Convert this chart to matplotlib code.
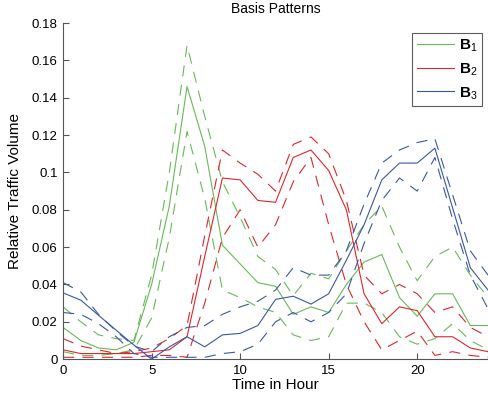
import matplotlib
matplotlib.use("Agg")
import matplotlib.pyplot as plt

plt.rcParams['font.family'] = ['Liberation Sans', 'DejaVu Sans']
plt.rcParams['mathtext.fontset'] = 'custom'
plt.rcParams['mathtext.rm'] = 'Liberation Sans'
plt.rcParams['mathtext.bf'] = 'Liberation Sans:bold'
plt.rcParams['lines.scale_dashes'] = False

hours = list(range(25))

# B1 (green)
b1 = [0.017, 0.010, 0.006, 0.005, 0.009, 0.040, 0.082, 0.146, 0.114, 0.061, 0.051, 0.041, 0.039,
      0.024, 0.028, 0.025, 0.040, 0.052, 0.056, 0.033, 0.023, 0.035, 0.035, 0.018, 0.018]
b1_hi = [0.028, 0.020, 0.013, 0.011, 0.010, 0.045, 0.100, 0.168, 0.130, 0.095, 0.076, 0.055, 0.048,
         0.034, 0.046, 0.043, 0.058, 0.072, 0.082, 0.060, 0.042, 0.055, 0.060, 0.045, 0.033]
b1_lo = [0.004, 0.002, 0.002, 0.003, 0.005, 0.022, 0.065, 0.122, 0.086, 0.037, 0.033, 0.028, 0.025,
         0.013, 0.010, 0.012, 0.030, 0.030, 0.025, 0.012, 0.008, 0.011, 0.019, 0.010, 0.005]

# B2 (red)
b2 = [0.005, 0.003, 0.003, 0.003, 0.003, 0.004, 0.005, 0.012, 0.055, 0.097, 0.096, 0.085, 0.084,
      0.108, 0.112, 0.101, 0.080, 0.035, 0.019, 0.028, 0.026, 0.012, 0.012, 0.006, 0.004]
b2_hi = [0.011, 0.007, 0.005, 0.003, 0.004, 0.006, 0.011, 0.018, 0.066, 0.112, 0.105, 0.099, 0.090,
         0.115, 0.119, 0.110, 0.085, 0.045, 0.035, 0.040, 0.035, 0.025, 0.028, 0.017, 0.012]
b2_lo = [0.001, 0.001, 0.001, 0.001, 0.001, 0.002, 0.002, 0.001, 0.030, 0.065, 0.080, 0.060, 0.072,
         0.095, 0.108, 0.072, 0.040, 0.020, 0.005, 0.010, 0.015, 0.002, 0.004, 0.002, 0.001]

# B3 (blue)
b3 = [0.0355, 0.0316, 0.0235, 0.0155, 0.0076, 0.000, 0.0066, 0.012, 0.0066, 0.013, 0.0138, 0.018, 0.032,
      0.0337, 0.0295, 0.035, 0.053, 0.072, 0.096, 0.105, 0.105, 0.113, 0.081, 0.049, 0.037]
b3_hi = [0.041, 0.036, 0.024, 0.015, 0.007, 0.004, 0.012, 0.017, 0.018, 0.024, 0.028, 0.031, 0.037,
         0.049, 0.045, 0.045, 0.058, 0.083, 0.105, 0.112, 0.116, 0.118, 0.088, 0.058, 0.045]
b3_lo = [0.025, 0.024, 0.019, 0.012, 0.003, 0.001, 0.001, 0.001, 0.001, 0.003, 0.004, 0.008, 0.020,
         0.025, 0.020, 0.025, 0.035, 0.062, 0.085, 0.097, 0.090, 0.108, 0.075, 0.045, 0.027]

green = '#66bb55'
red = '#e0262a'
blue = '#3a58a6'

fig = plt.figure(figsize=(4.89, 4.04), dpi=100)
ax = fig.add_axes([0.129, 0.111, 0.869, 0.832])

for mid, hi, lo, c, lab in [(b1, b1_hi, b1_lo, green, r'$\mathbf{B}_1$'),
                            (b2, b2_hi, b2_lo, red, r'$\mathbf{B}_2$'),
                            (b3, b3_hi, b3_lo, blue, r'$\mathbf{B}_3$')]:
    ax.plot(hours, mid, color=c, lw=0.8, label=lab)
    ax.plot(hours, hi, color=c, lw=0.8, dashes=(8, 6))
    ax.plot(hours, lo, color=c, lw=0.8, dashes=(8, 6))

ax.set_xlim(0, 24)
ax.set_ylim(0, 0.18)
ax.set_xticks([0, 5, 10, 15, 20])
ax.set_yticks([0, 0.02, 0.04, 0.06, 0.08, 0.1, 0.12, 0.14, 0.16, 0.18])
ax.set_yticklabels(['0', '0.02', '0.04', '0.06', '0.08', '0.1', '0.12', '0.14', '0.16', '0.18'])
ax.spines['top'].set_visible(False)
ax.spines['right'].set_visible(False)
for s in ['left', 'bottom']:
    ax.spines[s].set_color('#555555')
    ax.spines[s].set_linewidth(0.8)
ax.tick_params(direction='in', length=4, width=0.8, color='#555555', labelsize=9.5, pad=4)

ax.set_title('Basis Patterns', fontsize=10, pad=7)
ax.set_xlabel('Time in Hour', fontsize=11, labelpad=1)
ax.set_ylabel('Relative Traffic Volume', fontsize=11, labelpad=7)

leg = ax.legend(loc='upper right', bbox_to_anchor=(0.986, 0.970), fontsize=11, frameon=True,
                fancybox=False, edgecolor='#333333', handlelength=2.4, borderpad=0.3,
                labelspacing=0.45, handletextpad=0.35, borderaxespad=0)
leg.get_frame().set_linewidth(0.8)

fig.savefig('out.png', dpi=100)
